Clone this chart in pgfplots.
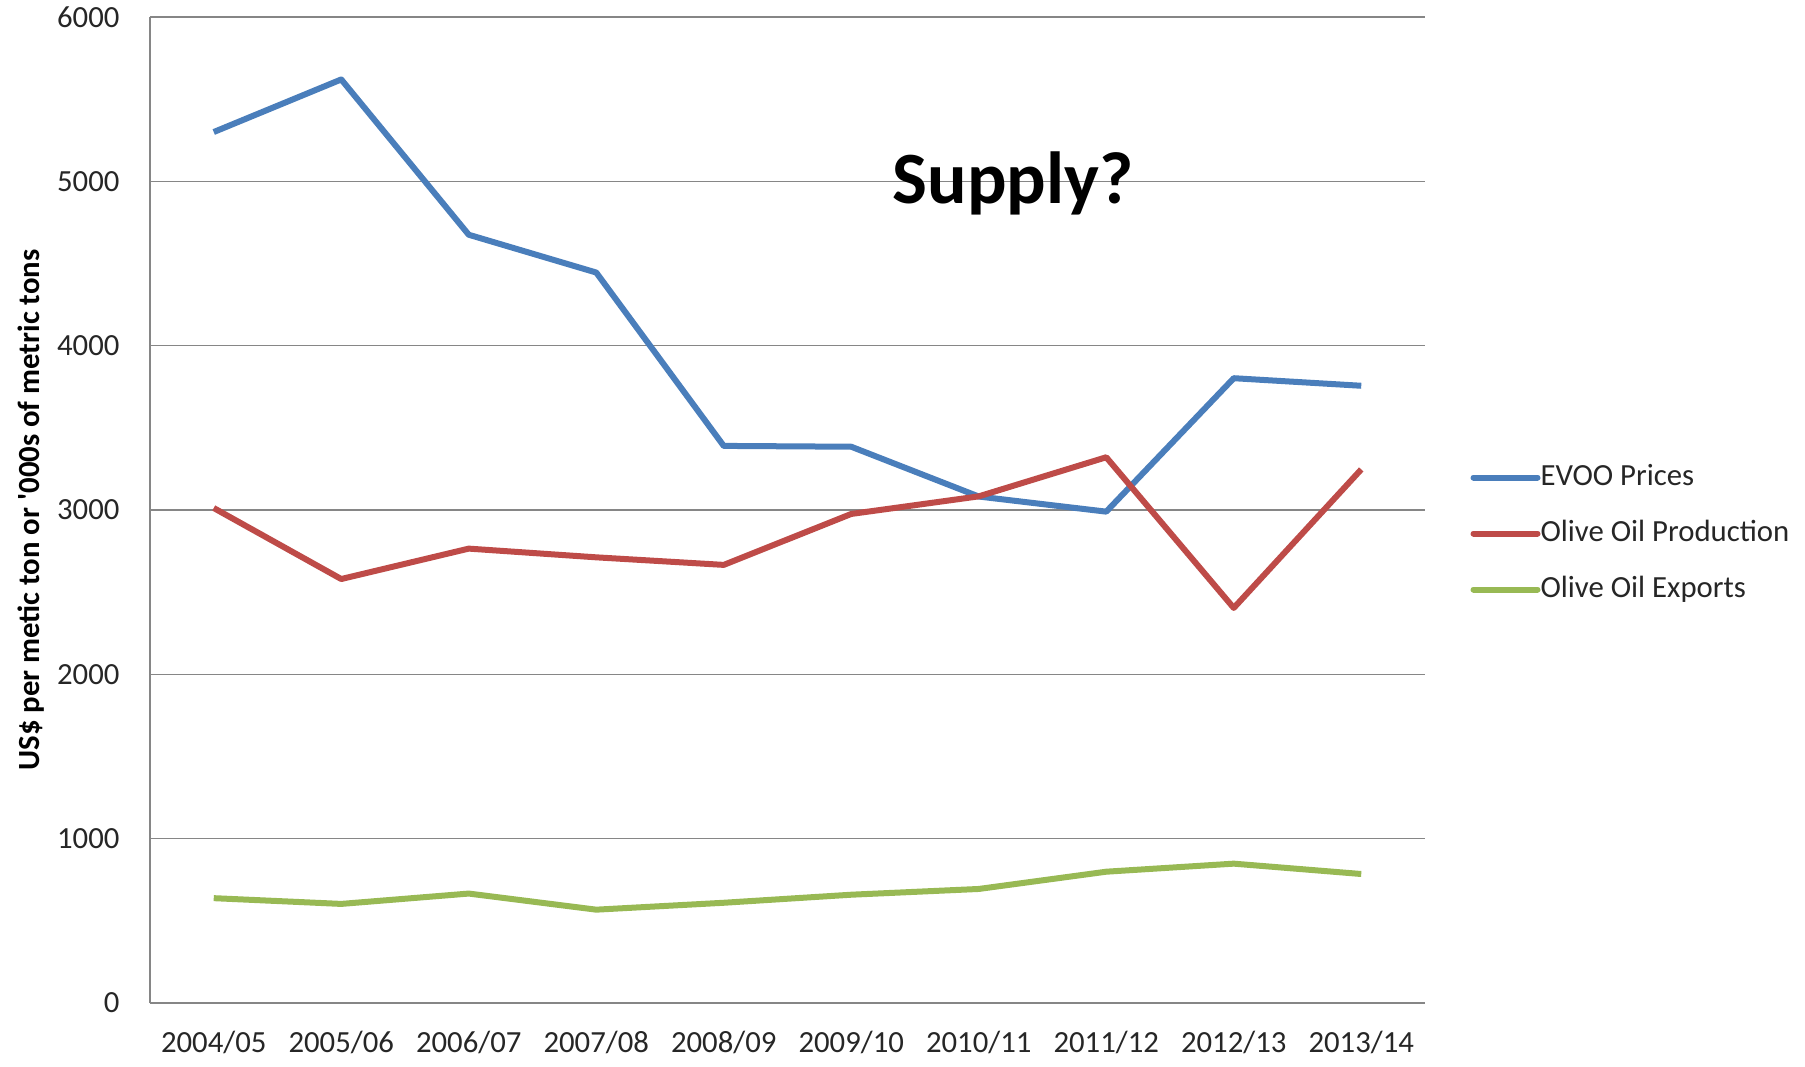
\documentclass[border=0pt]{standalone}
\usepackage{pgfplots}
\pgfplotsset{compat=1.18}
\usepackage{fontspec}
\setmainfont{Carlito}
\definecolor{evoo}{HTML}{4A7EBB}
\definecolor{prod}{HTML}{BE4B48}
\definecolor{expo}{HTML}{98B954}
\definecolor{gridc}{HTML}{868686}
\begin{document}
\begin{tikzpicture}
\begin{axis}[
  scale only axis,
  width=510pt, height=394.4pt,
  xmin=-0.5, xmax=9.5,
  ymin=0, ymax=6000,
  xtick=data,
  xticklabels={2004/05,2005/06,2006/07,2007/08,2008/09,2009/10,2010/11,2011/12,2012/13,2013/14},
  ytick={0,1000,2000,3000,4000,5000,6000},
  /pgf/number format/assume math mode=true,
  yticklabel={\pgfmathprintnumber[fixed,1000 sep={}]{\tick}},
  ymajorgrids,
  grid style={gridc, line width=0.6pt},
  major tick length=0pt,
  tick style={draw=none},
  axis lines*=left,
  axis line style={gridc, line width=0.6pt, -},
  tick label style={font=\fontsize{12.3}{14}\selectfont, text=black!85},
  yticklabel style={anchor=east, inner sep=0pt, xshift=-12pt},
  xticklabel style={anchor=center, inner sep=0pt, yshift=-15.6pt},
  ylabel={US\$ per metic ton or \textquotesingle000s of metric tons},
  ylabel style={at={(axis description cs:-0.0935,0.5)}, anchor=center, rotate=0, font=\bfseries\fontsize{12.3}{14}\selectfont},
  legend style={at={(axis description cs:1,0.4787)}, anchor=west, xshift=18pt, yshift=-1pt,
    draw=none, fill=none, inner sep=0pt,
    font=\fontsize{12.3}{14}\selectfont, text=black!85,
    nodes={inner sep=2pt, text height=9pt, text depth=3pt},
    row sep=6.4pt},
  legend cell align=left,
  legend image code/.code={\draw[#1, line cap=round, overlay] (0pt,0pt) -- (25.6pt,0pt); \path (0pt,0pt) -- (23.6pt,0pt);},
  every axis plot/.append style={line width=2.4pt, line join=round},
  clip=false,
]
\addplot[evoo, mark=none] coordinates {
 (0,5300) (1,5620) (2,4675) (3,4445) (4,3390) (5,3385) (6,3082) (7,2990) (8,3802) (9,3756)};
\addlegendentry{EVOO Prices}
\addplot[prod, mark=none] coordinates {
 (0,3012) (1,2580) (2,2765) (3,2712) (4,2666) (5,2976) (6,3083) (7,3321) (8,2404) (9,3247)};
\addlegendentry{Olive Oil Production}
\addplot[expo, mark=none] coordinates {
 (0,638) (1,603) (2,666) (3,568) (4,610) (5,659) (6,694) (7,799) (8,848) (9,785)};
\addlegendentry{Olive Oil Exports}
\node[anchor=base, font=\bfseries\fontsize{29.5}{32}\selectfont, inner sep=0pt] at (axis cs:6.27,4868) {Supply?};
\coordinate (sw) at (rel axis cs:0,0);
\coordinate (ne) at (rel axis cs:1,1);
\end{axis}
\pgfresetboundingbox
\useasboundingbox ([xshift=-60pt, yshift=-25.2pt]sw) rectangle ([xshift=152pt, yshift=6.8pt]ne);
\end{tikzpicture}
\end{document}
